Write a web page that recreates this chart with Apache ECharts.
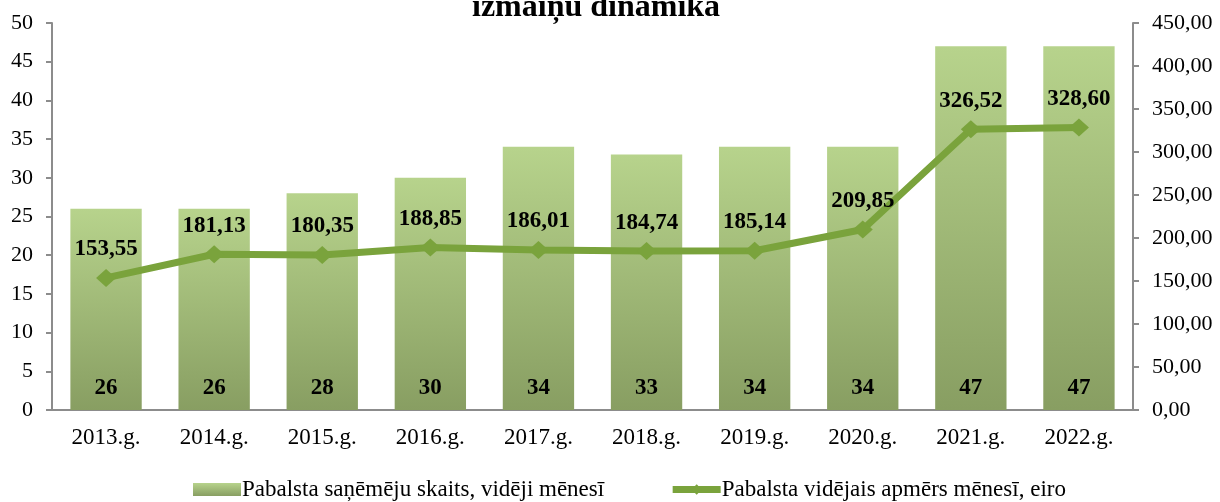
<!DOCTYPE html>
<html>
<head>
<meta charset="utf-8">
<script src="https://cdn.jsdelivr.net/npm/echarts@6/dist/echarts.min.js"></script>
<style>
  html, body { margin: 0; padding: 0; background: #fff; }
  #chart { width: 1220px; height: 502px; }
</style>
</head>
<body>
<div id="chart"></div>
<script>
// dati
var years = ['2013.g.', '2014.g.', '2015.g.', '2016.g.', '2017.g.', '2018.g.', '2019.g.', '2020.g.', '2021.g.', '2022.g.'];
var recipients = [26, 26, 28, 30, 34, 33, 34, 34, 47, 47];
var avgAmount = [153.55, 181.13, 180.35, 188.85, 186.01, 184.74, 185.14, 209.85, 326.52, 328.60];

var font = 'Liberation Serif';
var axisGray = '#8c8c8c';
var lineGreen = '#7aa33c';

var chart = echarts.init(document.getElementById('chart'));

function comma(v) { // 2 zīmes aiz komata
  return v.toFixed(2).replace('.', ',');
}

var barGradient = new echarts.graphic.LinearGradient(0, 0, 0, 1, [
  { offset: 0, color: '#b7d38c' },
  { offset: 1, color: '#889e62' }
]);

chart.setOption({
  animation: false,
  title: {
    text: 'izmaiņu dinamika',
    left: 467,
    top: -13,
    textStyle: { fontFamily: font, fontSize: 32, fontWeight: 'bold', color: '#000' }
  },
  grid: { left: 52, right: 87, top: 23, bottom: 92, containLabel: false },
  legend: {
    bottom: -4,
    left: 188,
    itemGap: 65,
    itemWidth: 48,
    itemHeight: 13,
    textStyle: { fontFamily: font, fontSize: 23, color: '#000', padding: [0, 0, 0, -4] },
    data: [
      { name: 'Pabalsta saņēmēju skaits, vidēji mēnesī', icon: 'rect' },
      {
        name: 'Pabalsta vidējais apmērs mēnesī, eiro',
        lineStyle: { width: 7, color: lineGreen }
      }
    ]
  },
  xAxis: {
    type: 'category',
    data: years,
    axisLine: { lineStyle: { color: axisGray, width: 2 } },
    axisTick: { length: 6, lineStyle: { color: axisGray, width: 2 } },
    axisLabel: { fontFamily: font, fontSize: 23, color: '#000', margin: 16 }
  },
  yAxis: [
    {
      type: 'value', min: 0, max: 50, interval: 5,
      axisLine: { show: true, lineStyle: { color: axisGray, width: 2 } },
      axisTick: { show: true, length: 6, lineStyle: { color: axisGray, width: 2 } },
      axisLabel: { fontFamily: font, fontSize: 22, color: '#000', margin: 19 },
      splitLine: { show: false }
    },
    {
      type: 'value', min: 0, max: 450, interval: 50,
      axisLine: { show: true, lineStyle: { color: axisGray, width: 2 } },
      axisTick: { show: true, length: 6, lineStyle: { color: axisGray, width: 2 } },
      axisLabel: { fontFamily: font, fontSize: 22, color: '#000', margin: 19, formatter: comma },
      splitLine: { show: false }
    }
  ],
  series: [
    {
      name: 'Pabalsta saņēmēju skaits, vidēji mēnesī',
      type: 'bar',
      data: recipients,
      barWidth: '66%',
      itemStyle: { color: barGradient },
      label: {
        show: true, position: 'insideBottom', distance: 10,
        fontFamily: font, fontSize: 23, fontWeight: 'bold', color: '#000'
      }
    },
    {
      name: 'Pabalsta vidējais apmērs mēnesī, eiro',
      type: 'line',
      yAxisIndex: 1,
      data: avgAmount,
      symbol: 'diamond',
      symbolSize: [20, 18],
      lineStyle: { color: lineGreen, width: 7 },
      itemStyle: { color: lineGreen },
      label: {
        show: true, position: 'top', distance: 8,
        formatter: function (p) { return comma(p.value); },
        fontFamily: font, fontSize: 23, fontWeight: 'bold', color: '#000'
      }
    }
  ]
});
</script>
</body>
</html>
